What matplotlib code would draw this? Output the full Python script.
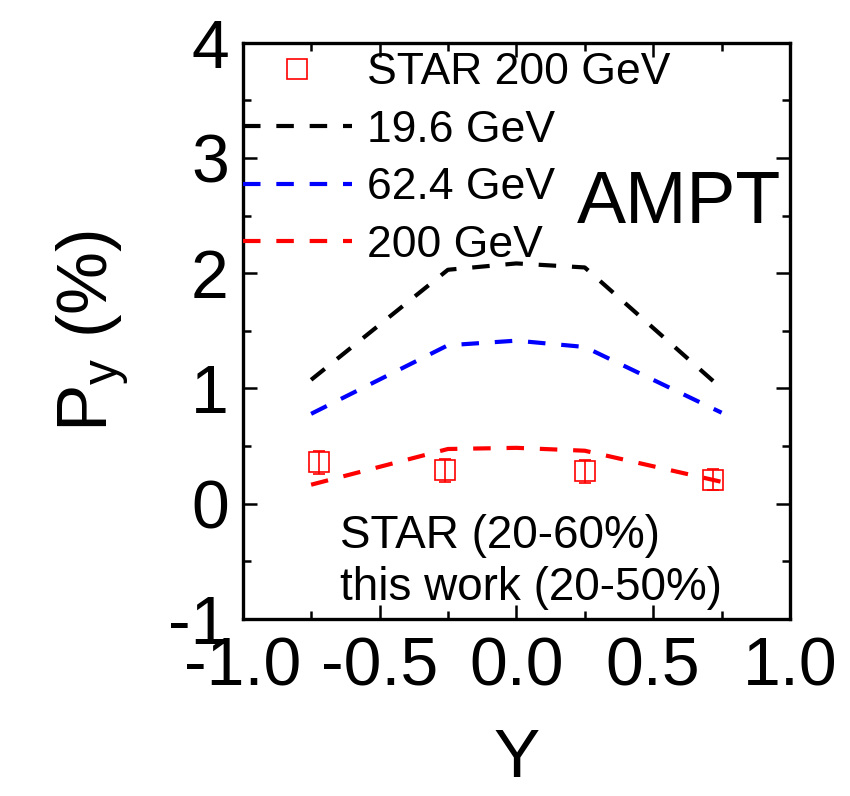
import matplotlib
matplotlib.use("Agg")
import matplotlib.pyplot as plt
from matplotlib.lines import Line2D
from matplotlib.ticker import MultipleLocator, FixedLocator, FormatStrFormatter

plt.rcParams['font.family'] = ['Liberation Sans', 'DejaVu Sans']
plt.rcParams['mathtext.fontset'] = 'custom'
plt.rcParams['mathtext.rm'] = 'Liberation Sans'
plt.rcParams['mathtext.it'] = 'Liberation Sans:italic'
plt.rcParams['axes.unicode_minus'] = False

# AMPT model curves: global polarization vs rapidity
rapidity_model = [-0.75, -0.25, 0.0, 0.25, 0.75]
py_19p6 = [1.075, 2.03, 2.085, 2.05, 1.00]
py_62p4 = [0.78, 1.375, 1.415, 1.36, 0.79]
py_200 = [0.165, 0.475, 0.485, 0.46, 0.19]

# STAR 200 GeV measurement
rapidity_star = [-0.72, -0.26, 0.25, 0.72]
py_star = [0.36, 0.29, 0.28, 0.21]
py_star_err = [0.10, 0.10, 0.10, 0.095]

xtick_values = [-1.0, -0.5, 0.0, 0.5, 1.0]
ytick_values = [-1, 0, 1, 2, 3, 4]

W, H = 850, 796
fig = plt.figure(figsize=(W / 100, H / 100), dpi=100)
ax_l, ax_r, ax_t, ax_b = 242.7, 790.0, 42.7, 619.0
ax = fig.add_axes([ax_l / W, 1 - ax_b / H, (ax_r - ax_l) / W, (ax_b - ax_t) / H])

lw = 3.0
dash = (0, (4.2, 3.8))
l1, = ax.plot(rapidity_model, py_19p6, color='black', lw=lw, ls=dash, label='19.6 GeV')
l2, = ax.plot(rapidity_model, py_62p4, color='#0000ff', lw=lw, ls=dash, label='62.4 GeV')
l3, = ax.plot(rapidity_model, py_200, color='#ff0000', lw=lw, ls=dash, label='200 GeV')

ax.errorbar(rapidity_star, py_star, yerr=py_star_err, fmt='s', ms=14,
            mfc='none', mec='#ff0000', mew=1.2, ecolor='#ff0000',
            elinewidth=1.2, capsize=4.5, capthick=1.2, zorder=3)

star_handle = Line2D([], [], ls='none', marker='s', ms=14, mfc='none',
                     mec='#ff0000', mew=1.2)

fs_leg = 32
leg = ax.legend([star_handle, l1, l2, l3],
                ['STAR 200 GeV', '19.6 GeV', '62.4 GeV', '200 GeV'],
                loc='upper left', bbox_to_anchor=(0.0, 0.983),
                frameon=False, fontsize=fs_leg, borderpad=0.0,
                borderaxespad=0.0, handlelength=2.45, handletextpad=0.34,
                labelspacing=0.37, handleheight=0.7)

ax.text(0.611, 0.688, 'AMPT', transform=ax.transAxes, fontsize=53,
        ha='left', va='baseline')
ax.text(0.178, 0.123, 'STAR (20-60%)', transform=ax.transAxes, fontsize=33,
        ha='left', va='baseline')
ax.text(0.178, 0.033, 'this work (20-50%)', transform=ax.transAxes, fontsize=33,
        ha='left', va='baseline')

ax.set_xlim(-1.0, 1.0)
ax.set_ylim(-1.0, 4.0)
ax.xaxis.set_major_locator(FixedLocator(xtick_values))
ax.xaxis.set_minor_locator(MultipleLocator(0.25))
ax.xaxis.set_major_formatter(FormatStrFormatter('%.1f'))
ax.yaxis.set_major_locator(FixedLocator(ytick_values))
ax.yaxis.set_minor_locator(MultipleLocator(0.5))
ax.yaxis.set_major_formatter(FormatStrFormatter('%d'))

ax.tick_params(which='both', direction='in', top=True, right=True,
               labelsize=49, width=1.8)
ax.tick_params(which='major', length=10)
ax.tick_params(axis='x', which='major', pad=12)
ax.tick_params(axis='y', which='major', pad=10)
ax.tick_params(which='minor', length=6)
for s in ax.spines.values():
    s.set_linewidth(2.4)

ax.set_xlabel('Y', fontsize=50, labelpad=20)
ax.set_ylabel(r'P$_\mathrm{y}$ (%)', fontsize=51)
ax.yaxis.set_label_coords(-0.206, 0.50)

fig.savefig('out.png', dpi=100)
